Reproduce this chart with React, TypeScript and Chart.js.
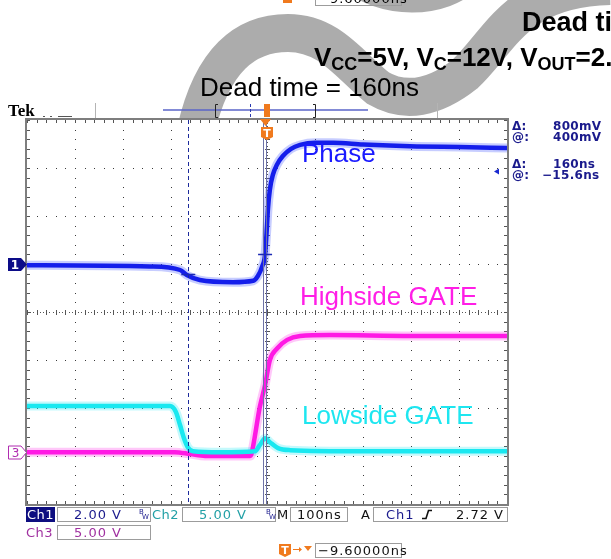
import React, { useEffect, useRef } from "react";
import { Chart, registerables } from "chart.js";

Chart.register(...registerables);

// ---------------- Data (time in ns, values in volts) ----------------
const phaseTime = [-500, -244, -181, -167, -140, -71, -29, -19, -10, -4, 0, 2, 6, 12, 21, 33, 50, 69, 100, 138, 200, 312, 400, 500];
const phaseVolts = [-0.05, -0.1, -0.25, -0.46, -0.67, -0.76, -0.7, -0.5, -0.1, 0.4, 1.6, 2.3, 3.1, 3.7, 4.15, 4.5, 4.8, 4.96, 5.05, 5.05, 4.98, 4.9, 4.87, 4.83];

const highTime = [-500, -192, -160, -129, -35, -33, -29, -15, -4, 6, 21, 42, 69, 131, 300, 500];
const highVolts = [0, 0, -0.2, -0.4, -0.4, -0.3, 0.6, 4.7, 7.0, 9.6, 10.8, 11.7, 12.1, 12.2, 12.1, 12.1];

const lowTime = [-500, -202, -190, -181, -173, -165, -154, -98, -25, -15, -4, 6, 23, 48, 200, 500];
const lowVolts = [4.8, 4.8, 4.2, 2.8, 1.46, 0.52, 0.1, 0.0, 0.1, 0.73, 1.46, 1.04, 0.42, 0.21, 0.1, 0.1];

// Scope settings
const X_MIN = -500;
const X_MAX = 500;
const X_DIV = 100; // ns / div
const Y_DIVS = 4; // half the number of vertical divisions
const CH1_VPD = 2;
const CH1_OFFSET = 1; // ground position in divisions
const CH23_VPD = 5;
const CH23_OFFSET = -2.92;
const CURSOR_TIMES = [-164, -4];
const CURSOR_VOLTS = [-0.4, 0.4];
const REF_ARROW_V = 3.85;

const traceLabels = ["Phase", "Highside GATE", "Lowside GATE"];
const readoutRows = [["Δ:", "800mV"], ["@:", "400mV"], ["Δ:", "160ns"], ["@:", "−15.6ns"]];

const NAVY = "#1a1a8c";
const TEAL = "#22a0a6";
const PURPLE = "#a030a0";
const ORANGE = "#f07a1e";

const pts = (t: number[], v: number[]) => t.map((x, i) => ({ x, y: v[i] }));

function txt(ctx: CanvasRenderingContext2D, s: string, x: number, y: number, font: string, color: string, spacing = 0, align: CanvasTextAlign = "left") {
  ctx.font = font;
  ctx.fillStyle = color;
  ctx.textAlign = align;
  ctx.textBaseline = "alphabetic";
  (ctx as any).letterSpacing = spacing + "px";
  ctx.fillText(s, x, y);
  (ctx as any).letterSpacing = "0px";
}

function box(ctx: CanvasRenderingContext2D, x: number, y: number, w: number, h: number) {
  ctx.strokeStyle = "#9c9c9c";
  ctx.lineWidth = 1;
  ctx.strokeRect(x + 0.5, y + 0.5, w - 1, h - 1);
}

function tIcon(ctx: CanvasRenderingContext2D, x: number, y: number) {
  ctx.fillStyle = ORANGE;
  ctx.beginPath();
  ctx.moveTo(x, y + 1);
  ctx.lineTo(x + 12, y + 1);
  ctx.lineTo(x + 12, y + 11);
  ctx.lineTo(x + 6, y + 14);
  ctx.lineTo(x, y + 11);
  ctx.closePath();
  ctx.fill();
  txt(ctx, "T", x + 6, y + 11, "bold 11px 'DejaVu Sans'", "#fff", 0, "center");
}

function drawWatermark(ctx: CanvasRenderingContext2D) {
  ctx.save();
  ctx.strokeStyle = "#acacac";
  ctx.lineCap = "butt";
  ctx.lineWidth = 38;
  ctx.beginPath();
  ctx.moveTo(196, 130);
  ctx.bezierCurveTo(212, 60, 245, 33, 288, 33);
  ctx.bezierCurveTo(330, 33, 350, 66, 378, 88);
  ctx.bezierCurveTo(405, 104, 435, 98, 465, 74);
  ctx.bezierCurveTo(500, 42, 515, -12, 610, -14);
  ctx.stroke();
  ctx.lineWidth = 30;
  ctx.beginPath();
  ctx.moveTo(350, -25);
  ctx.bezierCurveTo(380, 5, 445, 5, 470, -25);
  ctx.stroke();
  ctx.restore();
}

function drawHeader(ctx: CanvasRenderingContext2D) {
  // cut-off copy of the trigger readout at the very top
  ctx.fillStyle = ORANGE;
  ctx.fillRect(283, 0, 9, 3);
  box(ctx, 315, -10, 87, 16);
  txt(ctx, "−9.60000ns", 318, 3, "13px 'DejaVu Sans'", "#000", 1);

  txt(ctx, "Dead time", 522, 31, "bold 27px 'Liberation Sans'", "#000");
  // V_CC=5V, V_C=12V, V_OUT=2...
  let x = 314;
  const main = "bold 26px 'Liberation Sans'";
  const sub = "bold 18px 'Liberation Sans'";
  const parts: [string, boolean][] = [["V", false], ["CC", true], ["=5V, V", false], ["C", true], ["=12V, V", false], ["OUT", true], ["=2.5V", false]];
  for (const [s, isSub] of parts) {
    ctx.font = isSub ? sub : main;
    ctx.fillStyle = "#000";
    ctx.textAlign = "left";
    ctx.fillText(s, x, isSub ? 70 : 66);
    x += ctx.measureText(s).width;
  }

  txt(ctx, "Dead time = 160ns", 200, 96, "26px 'Liberation Sans'", "#000");

  // status bar
  txt(ctx, "Tek", 8, 116, "bold 17px 'Liberation Serif'", "#000");
  ctx.fillStyle = "#555";
  ctx.fillRect(43, 116, 2, 1);
  ctx.fillRect(50, 116, 2, 1);
  ctx.fillRect(58, 116, 14, 1);
  ctx.fillStyle = "#b4b4b4";
  ctx.fillRect(95, 103, 1, 15);
  ctx.fillRect(437, 103, 1, 15);
  ctx.strokeStyle = "#5a64c8";
  ctx.lineWidth = 1.5;
  ctx.beginPath();
  ctx.moveTo(163, 110);
  ctx.lineTo(368, 110);
  ctx.stroke();
  ctx.strokeStyle = "#222";
  ctx.lineWidth = 1;
  ctx.beginPath();
  ctx.moveTo(218, 104.5); ctx.lineTo(215.5, 104.5); ctx.lineTo(215.5, 117.5); ctx.lineTo(218, 117.5);
  ctx.moveTo(313, 104.5); ctx.lineTo(315.5, 104.5); ctx.lineTo(315.5, 117.5); ctx.lineTo(313, 117.5);
  ctx.stroke();
  ctx.strokeStyle = "#2a3ab0";
  ctx.setLineDash([3, 2]);
  ctx.beginPath();
  ctx.moveTo(250.5, 104);
  ctx.lineTo(250.5, 117);
  ctx.stroke();
  ctx.setLineDash([]);
  ctx.fillStyle = ORANGE;
  ctx.fillRect(264, 104, 6, 13);
}

function drawGraticule(chart: any) {
  const { ctx, chartArea: a, scales } = chart;
  const xs = scales.x;
  const yd = scales.yDiv;
  ctx.save();
  ctx.fillStyle = "#fff";
  ctx.fillRect(a.left, a.top, a.right - a.left, a.bottom - a.top);

  const nx = (X_MAX - X_MIN) / X_DIV;
  const ny = Y_DIVS * 2;
  ctx.fillStyle = "#3a3a3a";
  for (let i = 1; i < nx; i++) {
    const t = X_MIN + i * X_DIV;
    if (t === 0) continue;
    const px = Math.round(xs.getPixelForValue(t));
    for (let k = 0; k <= ny * 5; k++) {
      const py = Math.round(yd.getPixelForValue(-Y_DIVS + k * 0.2));
      ctx.fillRect(px, py, 1, 1);
    }
  }
  for (let j = 1; j < ny; j++) {
    const d = -Y_DIVS + j;
    if (d === 0) continue;
    const py = Math.round(yd.getPixelForValue(d));
    for (let k = 0; k <= nx * 5; k++) {
      const px = Math.round(xs.getPixelForValue(X_MIN + (k * X_DIV) / 5));
      ctx.fillRect(px, py, 1, 1);
    }
  }
  const cx = Math.round(xs.getPixelForValue(0));
  const cy = Math.round(yd.getPixelForValue(0));
  ctx.fillStyle = "#555";
  for (let k = 0; k <= ny * 15; k++) {
    const py = Math.round(yd.getPixelForValue(-Y_DIVS + k / 15));
    ctx.fillRect(cx, py, 1, 1);
  }
  for (let k = 0; k <= nx * 15; k++) {
    const px = Math.round(xs.getPixelForValue(X_MIN + (k * X_DIV) / 15));
    ctx.fillRect(px, cy, 1, 1);
  }
  for (let k = 0; k <= ny * 5; k++) {
    const py = Math.round(yd.getPixelForValue(-Y_DIVS + k * 0.2));
    ctx.fillRect(cx - 2, py, 5, 1);
    ctx.fillRect(a.left, py, 3, 1);
    ctx.fillRect(a.right - 3, py, 3, 1);
  }
  for (let k = 0; k <= nx * 5; k++) {
    const px = Math.round(xs.getPixelForValue(X_MIN + (k * X_DIV) / 5));
    ctx.fillRect(px, cy - 2, 1, 5);
    ctx.fillRect(px, a.top, 1, 3);
    ctx.fillRect(px, a.bottom - 3, 1, 3);
  }
  ctx.strokeStyle = "#7e7e7e";
  ctx.lineWidth = 2;
  ctx.strokeRect(a.left - 1, a.top - 1, a.right - a.left + 2, a.bottom - a.top + 2);
  ctx.restore();
}

function drawOverlays(chart: any) {
  const { ctx, chartArea: a, scales } = chart;
  const xs = scales.x;
  const y1 = scales.y1;
  const y3 = scales.y3;
  ctx.save();

  const cA = Math.round(xs.getPixelForValue(CURSOR_TIMES[0])) + 0.5;
  const cB = Math.round(xs.getPixelForValue(CURSOR_TIMES[1]));
  ctx.strokeStyle = "#1c2a9c";
  ctx.lineWidth = 1;
  ctx.setLineDash([4, 3]);
  ctx.beginPath();
  ctx.moveTo(cA, a.top);
  ctx.lineTo(cA, a.bottom);
  ctx.stroke();
  ctx.setLineDash([]);
  ctx.strokeStyle = "#6d72a6";
  ctx.beginPath();
  ctx.moveTo(cB - 1.5, a.top);
  ctx.lineTo(cB - 1.5, a.bottom);
  ctx.moveTo(cB + 1.5, a.top);
  ctx.lineTo(cB + 1.5, a.bottom);
  ctx.stroke();

  ctx.strokeStyle = "#1c2ab4";
  ctx.lineWidth = 1.5;
  ctx.beginPath();
  for (let i = 0; i < 2; i++) {
    const px = xs.getPixelForValue(CURSOR_TIMES[i]);
    const py = Math.round(y1.getPixelForValue(CURSOR_VOLTS[i])) + 0.5;
    ctx.moveTo(px - 7, py);
    ctx.lineTo(px + 7, py);
  }
  ctx.stroke();

  const tx = Math.round(xs.getPixelForValue(CURSOR_TIMES[1]));
  ctx.fillStyle = ORANGE;
  ctx.beginPath();
  ctx.moveTo(tx - 5, a.top - 1);
  ctx.lineTo(tx + 6, a.top - 1);
  ctx.lineTo(tx + 0.5, a.top + 6);
  ctx.closePath();
  ctx.fill();
  tIcon(ctx, tx - 4, a.top + 6);

  const ay = y1.getPixelForValue(REF_ARROW_V);
  ctx.fillStyle = "#1a2ad0";
  ctx.beginPath();
  ctx.moveTo(a.right - 13, ay);
  ctx.lineTo(a.right - 8, ay - 3);
  ctx.lineTo(a.right - 8, ay + 3);
  ctx.closePath();
  ctx.fill();

  const lf = "26px 'Liberation Sans'";
  txt(ctx, traceLabels[0], 302, 162, lf, "#1a1aff");
  txt(ctx, traceLabels[1], 300, 305, lf, "#ff1ee6");
  txt(ctx, traceLabels[2], 302, 424, lf, "#1ee6f0");

  const g1 = Math.round(y1.getPixelForValue(0)) + 0.5;
  ctx.fillStyle = "#0c0c88";
  ctx.beginPath();
  ctx.moveTo(8, g1 - 6.5);
  ctx.lineTo(21, g1 - 6.5);
  ctx.lineTo(27, g1);
  ctx.lineTo(21, g1 + 6.5);
  ctx.lineTo(8, g1 + 6.5);
  ctx.closePath();
  ctx.fill();
  txt(ctx, "1", 15, g1 + 4.5, "bold 12px 'DejaVu Sans'", "#fff", 0, "center");
  const g3 = Math.round(y3.getPixelForValue(0)) + 0.5;
  ctx.fillStyle = "#fff";
  ctx.strokeStyle = "#b02cb0";
  ctx.lineWidth = 1;
  ctx.beginPath();
  ctx.moveTo(8.5, g3 - 6.5);
  ctx.lineTo(21, g3 - 6.5);
  ctx.lineTo(26.5, g3);
  ctx.lineTo(21, g3 + 6.5);
  ctx.lineTo(8.5, g3 + 6.5);
  ctx.closePath();
  ctx.fill();
  ctx.stroke();
  txt(ctx, "3", 15.5, g3 + 4.5, "12px 'DejaVu Sans'", "#b02cb0", 0, "center");

  const rf = "bold 12px 'DejaVu Sans'";
  const rowY = [130, 141, 168, 179];
  readoutRows.forEach(([k, v], i) => {
    txt(ctx, k, 512, rowY[i], rf, NAVY, 0.3);
    txt(ctx, v, v.startsWith("−") ? 542 : 553, rowY[i], rf, NAVY, 0.3);
  });

  const bf = "13px 'DejaVu Sans'";
  ctx.fillStyle = "#0e0e80";
  ctx.fillRect(26, 507, 29, 15);
  txt(ctx, "Ch1", 27, 519, bf, "#fff", 0.5);
  box(ctx, 57, 507, 94, 15);
  txt(ctx, "2.00 V", 74, 519, bf, NAVY, 1);
  txt(ctx, "B", 139, 514, "7px 'DejaVu Sans'", NAVY);
  txt(ctx, "W", 142, 519, "7px 'DejaVu Sans'", NAVY);
  txt(ctx, "Ch2", 152, 519, bf, TEAL, 0.5);
  box(ctx, 182, 507, 94, 15);
  txt(ctx, "5.00 V", 199, 519, bf, TEAL, 1);
  txt(ctx, "B", 266, 514, "7px 'DejaVu Sans'", NAVY);
  txt(ctx, "W", 269, 519, "7px 'DejaVu Sans'", NAVY);
  txt(ctx, "M", 277, 519, bf, "#111");
  box(ctx, 290, 507, 58, 15);
  txt(ctx, "100ns", 297, 519, bf, "#111", 1);
  txt(ctx, "A", 361, 519, bf, "#111");
  box(ctx, 373, 507, 135, 15);
  txt(ctx, "Ch1", 386, 519, bf, NAVY, 1);
  ctx.strokeStyle = "#111";
  ctx.lineWidth = 1.6;
  ctx.beginPath();
  ctx.moveTo(422, 518.5);
  ctx.lineTo(426, 518.5);
  ctx.lineTo(428.5, 510.5);
  ctx.lineTo(432, 510.5);
  ctx.stroke();
  txt(ctx, "2.72 V", 456, 519, bf, "#111", 1);

  txt(ctx, "Ch3", 26, 537, bf, PURPLE, 0.5);
  box(ctx, 57, 525, 94, 15);
  txt(ctx, "5.00 V", 74, 537, bf, PURPLE, 1);

  tIcon(ctx, 279, 543);
  ctx.strokeStyle = ORANGE;
  ctx.lineWidth = 1;
  ctx.beginPath();
  ctx.moveTo(293, 549.5);
  ctx.lineTo(301, 549.5);
  ctx.stroke();
  ctx.fillStyle = ORANGE;
  ctx.beginPath();
  ctx.moveTo(299, 547); ctx.lineTo(302, 549.5); ctx.lineTo(299, 552); ctx.closePath();
  ctx.moveTo(304, 546); ctx.lineTo(312, 546); ctx.lineTo(308, 551); ctx.closePath();
  ctx.fill();
  box(ctx, 315, 543, 87, 15);
  txt(ctx, "−9.60000ns", 318, 555, bf, "#111", 1);

  ctx.restore();
}

const scopePlugin = {
  id: "scopeDecor",
  beforeDraw(chart: any) {
    const ctx = chart.ctx;
    ctx.save();
    ctx.fillStyle = "#fff";
    ctx.fillRect(0, 0, chart.width, chart.height);
    drawWatermark(ctx);
    drawHeader(ctx);
    ctx.restore();
  },
  beforeDatasetsDraw(chart: any) {
    drawGraticule(chart);
  },
  afterDatasetsDraw(chart: any) {
    drawOverlays(chart);
  },
};

export default function App() {
  const ref = useRef<HTMLCanvasElement | null>(null);

  useEffect(() => {
    if (!ref.current) return;
    const line = (label: string, t: number[], v: number[], axis: string, color: string, width: number, order: number) => ({
      label,
      data: pts(t, v),
      yAxisID: axis,
      borderColor: color,
      borderWidth: width,
      pointRadius: 0,
      cubicInterpolationMode: "monotone" as const,
      fill: false,
      order,
    });
    const chart = new Chart(ref.current, {
      type: "line",
      data: {
        datasets: [
          line("Phase", phaseTime, phaseVolts, "y1", "rgb(20,30,235)", 4.5, 0),
          line("Lowside GATE", lowTime, lowVolts, "y2", "rgb(25,232,240)", 4.5, 1),
          line("Highside GATE", highTime, highVolts, "y3", "rgb(255,25,228)", 4.5, 2),
          line("Phase halo", phaseTime, phaseVolts, "y1", "rgba(70,90,255,0.3)", 9, 3),
          line("Lowside halo", lowTime, lowVolts, "y2", "rgba(60,235,245,0.3)", 9, 4),
          line("Highside halo", highTime, highVolts, "y3", "rgba(255,70,235,0.3)", 9, 5),
        ],
      },
      options: {
        responsive: false,
        animation: false,
        devicePixelRatio: 1,
        events: [],
        layout: { padding: { left: 27, right: 104, top: 120, bottom: 55 } },
        plugins: { legend: { display: false }, tooltip: { enabled: false } },
        scales: {
          x: { type: "linear", min: X_MIN, max: X_MAX, display: false },
          yDiv: { type: "linear", min: -Y_DIVS, max: Y_DIVS, display: false },
          y1: { type: "linear", min: (-Y_DIVS - CH1_OFFSET) * CH1_VPD, max: (Y_DIVS - CH1_OFFSET) * CH1_VPD, display: false },
          y2: { type: "linear", min: (-Y_DIVS - CH23_OFFSET) * CH23_VPD, max: (Y_DIVS - CH23_OFFSET) * CH23_VPD, display: false },
          y3: { type: "linear", min: (-Y_DIVS - CH23_OFFSET) * CH23_VPD, max: (Y_DIVS - CH23_OFFSET) * CH23_VPD, display: false },
        },
      },
      plugins: [scopePlugin],
    });
    return () => chart.destroy();
  }, []);

  return (
    <div style={{ position: "absolute", left: 0, top: 0, width: 611, height: 559, background: "#fff" }}>
      <canvas ref={ref} width={611} height={559} style={{ display: "block", width: 611, height: 559 }} />
    </div>
  );
}
